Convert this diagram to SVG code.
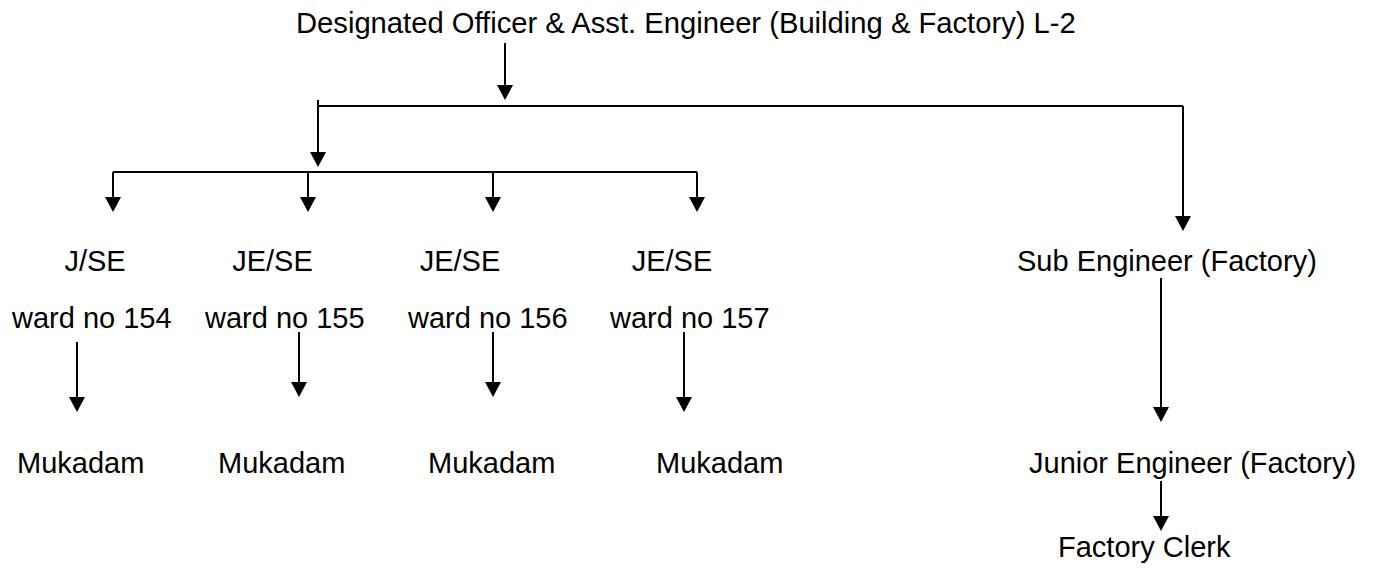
<svg xmlns="http://www.w3.org/2000/svg" width="1377" height="569" viewBox="0 0 1377 569">
<style>
text { font-family: "Liberation Sans", Arial, sans-serif; font-size: 29px; fill: #000; }
.t { font-size: 29.2px; }
.c { fill: none; stroke: #000; stroke-width: 2; }
.a { fill: none; stroke: #000; stroke-width: 2; marker-end: url(#ah); }
</style>
<defs>
<marker id="ah" markerUnits="userSpaceOnUse" markerWidth="16" markerHeight="16" refX="0" refY="8" orient="auto" viewBox="0 0 15 16">
<path d="M0,0 L15,8 L0,16 Z" fill="#000"/>
</marker>
</defs>
<rect width="1377" height="569" fill="#fff"/>
<g id="connectors">
<line class="a" x1="505" y1="43" x2="505" y2="85"/>
<polyline class="c" points="318,100 318,106 1183,106"/>
<line class="a" x1="318" y1="106" x2="318" y2="152"/>
<line class="a" x1="1183" y1="106" x2="1183" y2="216"/>
<line class="c" x1="113" y1="172" x2="697" y2="172"/>
<line class="a" x1="113" y1="172" x2="113" y2="197"/>
<line class="a" x1="308" y1="172" x2="308" y2="197"/>
<line class="a" x1="493" y1="172" x2="493" y2="197"/>
<line class="a" x1="697" y1="172" x2="697" y2="197"/>
<line class="a" x1="77" y1="342" x2="77" y2="397"/>
<line class="a" x1="299" y1="332" x2="299" y2="382"/>
<line class="a" x1="493" y1="332" x2="493" y2="382"/>
<line class="a" x1="684" y1="332" x2="684" y2="397"/>
<line class="a" x1="1161" y1="278" x2="1161" y2="407"/>
<line class="a" x1="1161" y1="481" x2="1161" y2="516"/>
</g>
<g id="n-do"><text class="t" x="296" y="33">Designated Officer &amp; Asst. Engineer (Building &amp; Factory) L-2</text></g>
<g id="n-jse154"><text x="95" y="271" text-anchor="middle">J/SE</text><text x="12" y="328">ward no 154</text></g>
<g id="n-jese155"><text x="272.5" y="271" text-anchor="middle">JE/SE</text><text x="205" y="328">ward no 155</text></g>
<g id="n-jese156"><text x="460" y="271" text-anchor="middle">JE/SE</text><text x="408" y="328">ward no 156</text></g>
<g id="n-jese157"><text x="672" y="271" text-anchor="middle">JE/SE</text><text x="610" y="328">ward no 157</text></g>
<g id="n-muk1"><text x="17" y="473">Mukadam</text></g>
<g id="n-muk2"><text x="218" y="473">Mukadam</text></g>
<g id="n-muk3"><text x="428" y="473">Mukadam</text></g>
<g id="n-muk4"><text x="656" y="473">Mukadam</text></g>
<g id="n-subeng"><text x="1017" y="271">Sub Engineer (Factory)</text></g>
<g id="n-jreng"><text x="1029" y="473">Junior Engineer (Factory)</text></g>
<g id="n-clerk"><text x="1058" y="557">Factory Clerk</text></g>
</svg>
